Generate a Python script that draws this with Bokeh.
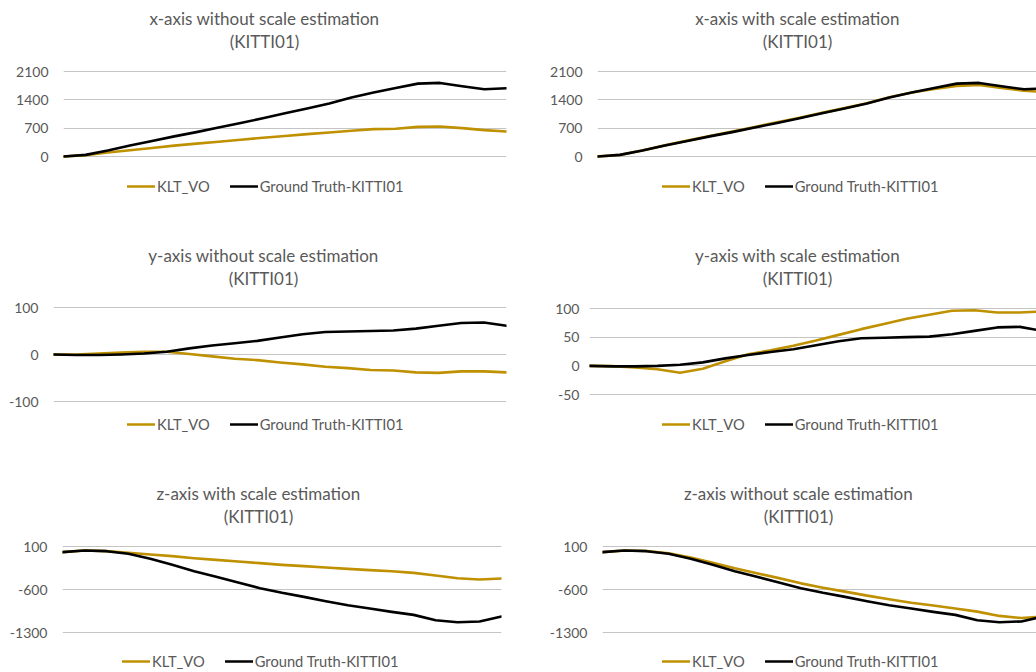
from bokeh.plotting import figure
from bokeh.models import Range1d, FixedTicker, Legend, LegendItem, Label
from bokeh.layouts import row, column
from bokeh.embed import file_html
from bokeh.resources import INLINE

# ---------------- data ----------------
frames = [0, 55, 110, 165, 220, 275, 330, 385, 440, 495, 550,
          605, 660, 715, 770, 825, 880, 935, 990, 1045, 1100]

gt_x = [0, 40, 147, 270, 383, 497, 602, 716, 830, 944, 1066,
        1188, 1310, 1457, 1579, 1693, 1800, 1818, 1734, 1660, 1685]
klt_x_noscale = [0, 33, 98, 155, 212, 269, 317, 366, 415, 464, 505,
                 553, 594, 635, 676, 684, 733, 741, 700, 651, 619]
klt_x_scale = [0, 40, 150, 275, 392, 507, 615, 730, 845, 958, 1078,
               1195, 1318, 1462, 1580, 1670, 1745, 1765, 1695, 1625, 1590]

gt_y = [0, -1, -1, 0, 2, 6, 13, 19, 24, 29, 36,
        43, 48, 49, 50, 51, 55, 61, 67, 68, 61]
klt_y_noscale = [0, 0, 2, 4, 6, 6, 1, -4, -9, -12, -17,
                 -21, -26, -29, -33, -34, -38, -39, -36, -36, -38]
klt_y_scale = [0, -0.5, -3, -6, -12, -5, 8, 20, 27, 35, 44,
               54, 64, 73, 82, 89, 96, 97, 93, 93, 95]

gt_z = [8, 35, 24, -19, -101, -199, -302, -394, -486, -578, -654,
        -720, -790, -856, -910, -964, -1013, -1100, -1133, -1120, -1040]
klt_z_noscale = [8, 35, 24, -3, -30, -57, -90, -117, -144, -171, -199,
                 -220, -242, -264, -285, -302, -329, -372, -416, -438, -421]
klt_z_scale = [8, 35, 26, -12, -80, -165, -255, -335, -415, -500, -570,
               -635, -700, -760, -815, -860, -910, -960, -1030, -1065, -1040]

titles = ["x-axis without scale estimation", "x-axis with scale estimation",
          "y-axis without scale estimation", "y-axis with scale estimation",
          "z-axis with scale estimation", "z-axis without scale estimation"]
subtitle = "(KITTI01)"
series_names = ["KLT_VO", "Ground Truth-KITTI01"]

x_ticks = [0, 700, 1400, 2100]
x_tick_labels = ["0", "700", "1400", "2100"]
y_ticks_a = [-100, 0, 100]
y_tick_labels_a = ["-100", "0", "100"]
y_ticks_b = [-50, 0, 50, 100]
y_tick_labels_b = ["-50", "0", "50", "100"]
z_ticks = [-1300, -600, 100]
z_tick_labels = ["-1300", "-600", "100"]

# ---------------- styling / layout constants ----------------
GOLD = "#BF9000"
TEXT = "#595959"
GRID = "#C4C4C4"
FONT = "Lato"


def panel(fig_left, fig_top, fig_w, fig_h, grid_left, grid_right_full, frame_right,
          grid_top, grid_bottom, lo, hi, ticks, tick_labels, klt, gt, title,
          title_pos, legend_pos, standoff=15):
    # the frame spans the whole height of the figure; the value range is
    # widened so that the tick values fall on the gridline positions
    fig_bottom = fig_top + fig_h
    u = (hi - lo) / (grid_bottom - grid_top)
    y_start = lo - (fig_bottom - grid_bottom) * u
    y_end = hi + (grid_top - fig_top) * u
    ml = grid_left - fig_left
    frame_w = frame_right - grid_left
    mr = fig_w - ml - frame_w
    full_w = grid_right_full - grid_left
    x_end = frames[-1] * frame_w / full_w

    p = figure(width=fig_w, height=fig_h, title=None,
               x_range=Range1d(0, x_end),
               y_range=Range1d(y_start, y_end),
               output_backend="svg", toolbar_location=None,
               x_axis_location=None,
               min_border_left=ml, min_border_right=mr,
               min_border_top=0, min_border_bottom=0)
    p.outline_line_color = None
    p.background_fill_color = "white"
    p.border_fill_color = "white"
    p.xgrid.visible = False

    p.yaxis.ticker = FixedTicker(ticks=ticks)
    p.yaxis.major_label_overrides = dict(zip(ticks, tick_labels))
    p.ygrid.ticker = FixedTicker(ticks=ticks)
    p.ygrid.grid_line_color = GRID
    p.ygrid.grid_line_width = 1.2
    p.yaxis.axis_line_color = None
    p.yaxis.major_tick_line_color = None
    p.yaxis.minor_tick_line_color = None
    p.yaxis.major_tick_out = 0
    p.yaxis.major_tick_in = 0
    p.yaxis.major_label_standoff = standoff
    p.yaxis.major_label_text_font = FONT
    p.yaxis.major_label_text_font_size = "14px"
    p.yaxis.major_label_text_color = TEXT

    r1 = p.line(frames, klt, line_color=GOLD, line_width=2.6,
                line_join="round", line_cap="round")
    r2 = p.line(frames, gt, line_color="black", line_width=2.6,
                line_join="round", line_cap="round")

    tx, ty1, ty2 = title_pos
    for txt, ty in ((title, ty1), (subtitle, ty2)):
        p.add_layout(Label(x=tx - grid_left, y=fig_bottom - ty,
                           x_units="screen", y_units="screen",
                           text=txt, text_align="center", text_baseline="middle",
                           text_font=FONT, text_font_size="17px", text_color=TEXT))

    lx, ly = legend_pos
    lh = 16
    legend = Legend(items=[LegendItem(label=series_names[0], renderers=[r1]),
                           LegendItem(label=series_names[1], renderers=[r2])],
                    location=(lx - grid_left, fig_bottom - ly - lh / 2),
                    orientation="horizontal",
                    glyph_width=28, glyph_height=lh, label_height=lh,
                    label_standoff=2, spacing=20, padding=0, margin=0,
                    border_line_alpha=0, background_fill_alpha=0,
                    label_text_font=FONT, label_text_font_size="14.7px",
                    label_text_color=TEXT, label_text_baseline="middle")
    p.add_layout(legend)
    return p


LX, RX = 0, 528
LW, RW = 528, 508
R1, R2, R3 = 0, 236, 474
H1, H2, H3 = 236, 238, 196

p1 = panel(LX, R1, LW, H1, 63, 506, 506, 71, 156, 0, 2100, x_ticks, x_tick_labels,
           klt_x_noscale, gt_x, titles[0], (264, 18, 41), (127, 187))
p2 = panel(RX, R1, RW, H1, 597, 1046, 1036, 71, 156, 0, 2100, x_ticks, x_tick_labels,
           klt_x_scale, gt_x, titles[1], (797, 18, 41), (662, 187))
p3 = panel(LX, R2, LW, H2, 53, 506, 506, 307, 401, -100, 100, y_ticks_a, y_tick_labels_a,
           klt_y_noscale, gt_y, titles[2], (263, 255, 278), (127, 425))
p4 = panel(RX, R2, RW, H2, 589, 1042, 1036, 308, 394, -50, 100, y_ticks_b, y_tick_labels_b,
           klt_y_scale, gt_y, titles[3], (797, 255, 278), (662, 425), standoff=10)
p5 = panel(LX, R3, LW, H3, 62, 501, 501, 546, 632, -1300, 100, z_ticks, z_tick_labels,
           klt_z_noscale, gt_z, titles[4], (258, 493, 516), (122, 662))
p6 = panel(RX, R3, RW, H3, 602, 1043, 1036, 546, 632, -1300, 100, z_ticks, z_tick_labels,
           klt_z_scale, gt_z, titles[5], (798, 493, 516), (662, 662))

layout = column(row(p1, p2), row(p3, p4), row(p5, p6))

open("out.html", "w").write(file_html(layout, INLINE))
